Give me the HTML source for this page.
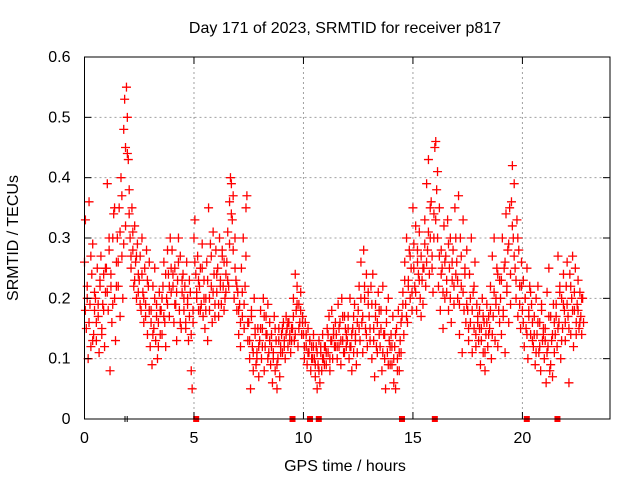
<!DOCTYPE html>
<html><head><meta charset="utf-8"><style>
html,body{margin:0;padding:0;background:#fff;}
svg{display:block;font-family:"Liberation Sans",sans-serif;}
</style></head><body>
<svg id="chart" width="640" height="480" viewBox="0 0 640 480">
<text x="345" y="33" font-size="16" text-anchor="middle">Day 171 of 2023, SRMTID for receiver p817</text>
<text x="345" y="471" font-size="16" text-anchor="middle">GPS time / hours</text>
<text transform="translate(18,238) rotate(-90)" font-size="16" text-anchor="middle">SRMTID / TECUs</text>
<g id="grid"></g>
<g id="points"></g>
<g id="axes"></g>
</svg>
<script>
const xTicks = [0,5,10,15,20];
const yTicks = [0,0.1,0.2,0.3,0.4,0.5,0.6];
const yTickLabels = ["0","0.1","0.2","0.3","0.4","0.5","0.6"];
const segStarts = [0,0.5,1,1.5,2,2.5,3,3.5,4,4.5,5,5.5,6,6.5,7,7.5,8,8.5,9,9.5,10,10.5,11,11.5,12,12.5,13,13.5,14,14.5,15,15.5,16,16.5,17,17.5,18,18.5,19,19.5,20,20.5,21,21.5,22,22.5];
const segValues = [
[.26,.33,.15,.20,.10,.36,.19,.12,.24,.29,.14,.18],
[.20,.13,.25,.17,.11,.22,.27,.15,.19,.24,.12,.21],
[.25,.39,.18,.28,.08,.22,.16,.30,.34,.20,.13,.26],
[.30,.22,.35,.17,.40,.27,.20,.48,.53,.32,.55,.44],
[.43,.38,.30,.25,.35,.28,.22,.32,.26,.20,.29,.24],
[.23,.27,.18,.30,.21,.16,.25,.19,.28,.14,.22,.26],
[.12,.18,.09,.22,.15,.25,.13,.19,.10,.16,.21,.14],
[.18,.14,.22,.26,.16,.12,.20,.28,.24,.17,.30,.21],
[.28,.22,.16,.25,.19,.13,.23,.30,.18,.27,.15,.21],
[.24,.18,.22,.15,.26,.20,.13,.17,.21,.08,.05,.16],
[.30,.33,.24,.20,.27,.18,.22,.25,.19,.29,.17,.23],
[.15,.20,.26,.13,.35,.18,.29,.22,.16,.31,.24,.19],
[.28,.21,.25,.17,.30,.23,.19,.27,.22,.26,.20,.24],
[.26,.31,.22,.36,.40,.39,.33,.28,.20,.25,.23,.18],
[.21,.14,.19,.12,.25,.17,.30,.15,.22,.35,.37,.13],
[.16,.10,.05,.18,.12,.08,.20,.14,.09,.11,.15,.07],
[.13,.18,.10,.15,.20,.08,.12,.17,.14,.19,.11,.16],
[.09,.14,.06,.11,.17,.08,.13,.05,.10,.15,.07,.12],
[.14,.11,.16,.13,.10,.17,.15,.12,.16,.14,.11,.13],
[.15,.20,.13,.24,.18,.22,.12,.19,.16,.21,.14,.17],
[.14,.10,.16,.12,.09,.15,.11,.13,.08,.12,.10,.14],
[.10,.07,.12,.05,.09,.13,.06,.11,.08,.14,.10,.12],
[.12,.09,.15,.11,.17,.08,.13,.18,.10,.14,.12,.16],
[.14,.10,.19,.12,.16,.09,.20,.13,.11,.17,.15,.12],
[.13,.17,.10,.20,.12,.08,.15,.11,.19,.14,.09,.16],
[.18,.22,.13,.26,.16,.11,.28,.20,.15,.24,.12,.19],
[.17,.13,.22,.10,.24,.15,.07,.19,.12,.16,.21,.14],
[.12,.18,.08,.22,.14,.10,.05,.16,.11,.20,.13,.09],
[.14,.09,.17,.06,.12,.05,.15,.10,.18,.08,.13,.11],
[.17,.21,.14,.26,.19,.30,.16,.23,.28,.20,.25,.18],
[.35,.29,.22,.32,.18,.26,.24,.31,.20,.27,.23,.19],
[.25,.33,.22,.39,.28,.43,.24,.30,.36,.27,.21,.34],
[.45,.46,.38,.30,.22,.35,.18,.28,.25,.15,.32,.20],
[.27,.21,.33,.18,.25,.30,.16,.23,.28,.19,.35,.24],
[.26,.20,.37,.14,.30,.22,.11,.33,.18,.25,.16,.28],
[.18,.13,.24,.16,.30,.11,.21,.15,.26,.12,.19,.17],
[.13,.18,.09,.15,.20,.11,.16,.08,.14,.19,.12,.17],
[.15,.22,.10,.27,.17,.30,.13,.20,.25,.12,.18,.23],
[.20,.14,.30,.18,.25,.11,.34,.22,.28,.16,.35,.19],
[.36,.42,.30,.39,.25,.20,.33,.17,.28,.22,.15,.26],
[.18,.23,.12,.20,.15,.25,.10,.17,.22,.14,.19,.13],
[.12,.17,.09,.20,.14,.22,.11,.16,.08,.18,.13,.15],
[.10,.15,.06,.21,.12,.25,.08,.17,.13,.07,.19,.11],
[.14,.19,.12,.27,.16,.22,.10,.20,.15,.24,.18,.13],
[.22,.26,.17,.06,.24,.14,.20,.27,.12,.18,.25,.16],
[.19,.23,.15,.21,.17,.14,.20,.16]
];
const segValues2 = [
[.18,.22,.16,.27,.13,.21],
[.16,.19,.23,.14,.18,.25],
[.21,.30,.24,.19,.35,.22],
[.26,.31,.37,.29,.45,.50],
[.34,.27,.31,.23,.27,.21],
[.19,.24,.20,.17,.23,.18],
[.16,.14,.20,.17,.12,.18],
[.20,.17,.24,.19,.22,.25],
[.24,.19,.21,.26,.16,.23],
[.20,.16,.19,.23,.14,.18],
[.26,.21,.23,.18,.25,.20],
[.18,.23,.20,.27,.21,.17],
[.24,.19,.22,.28,.18,.21],
[.23,.29,.34,.37,.30,.22],
[.18,.16,.21,.19,.27,.16],
[.13,.17,.11,.15,.10,.12],
[.15,.12,.17,.14,.10,.13],
[.12,.10,.15,.09,.13,.11],
[.15,.12,.14,.16,.13,.15],
[.17,.14,.19,.15,.18,.16],
[.12,.14,.11,.13,.10,.12],
[.09,.11,.08,.12,.10,.09],
[.11,.14,.10,.13,.15,.12],
[.12,.15,.13,.17,.11,.14],
[.15,.12,.14,.17,.13,.11],
[.15,.20,.17,.22,.14,.21],
[.15,.19,.13,.17,.11,.18],
[.15,.11,.14,.18,.09,.12],
[.12,.10,.14,.08,.11,.16],
[.19,.23,.17,.22,.27,.21],
[.25,.21,.28,.23,.17,.25],
[.29,.26,.31,.35,.25,.30],
[.33,.41,.27,.24,.21,.26],
[.23,.29,.20,.26,.22,.30],
[.23,.19,.27,.21,.24,.19],
[.15,.20,.18,.22,.14,.16],
[.15,.13,.17,.11,.16,.14],
[.18,.14,.21,.19,.24,.16],
[.23,.17,.26,.21,.29,.24],
[.32,.27,.23,.30,.19,.22],
[.16,.20,.14,.18,.21,.16],
[.14,.11,.16,.12,.19,.14],
[.13,.11,.17,.09,.14,.16],
[.17,.15,.21,.13,.19,.16],
[.19,.15,.22,.18,.21,.14],
[.18,.16,.20]
];
const gapHours = [5.1,9.5,10.3,10.7,14.5,16.0,20.2,21.6];
const slipHours = [1.85,1.95];

const L=84.5,R=610,T=57,B=419;
const xMin=0,xMax=24,yMin=0,yMax=0.6;
const sx=h=>L+(h-xMin)/(xMax-xMin)*(R-L);
const sy=v=>B-(v-yMin)/(yMax-yMin)*(B-T);
const NS="http://www.w3.org/2000/svg";
function mk(tag,attrs,parent){const e=document.createElementNS(NS,tag);for(const k in attrs)e.setAttribute(k,attrs[k]);parent.appendChild(e);return e;}
const grid=document.getElementById('grid'),pts=document.getElementById('points'),axes=document.getElementById('axes');

yTicks.forEach((v,i)=>{
  const y=sy(v);
  if(i>0&&i<yTicks.length-1){
    const g=mk('line',{x1:L,x2:R,y1:y,y2:y,stroke:'#a0a0a0','stroke-dasharray':'2,3'},grid);
    
    
  }
  const t1=mk('line',{x1:L,x2:L+7,y1:y,y2:y,stroke:'#000'},axes);
  
  
  mk('line',{x1:R,x2:R-7,y1:y,y2:y,stroke:'#000'},axes);
  const tx=mk('text',{x:L-14,y:y+5,'font-size':16,'text-anchor':'end'},axes);
  tx.textContent=yTickLabels[i];
  
  
});
xTicks.forEach(h=>{
  const x=sx(h);
  if(h>0){
    const g=mk('line',{x1:x,x2:x,y1:T,y2:B,stroke:'#a0a0a0','stroke-dasharray':'2,3'},grid);
    
    
  }
  const t1=mk('line',{x1:x,x2:x,y1:B,y2:B-7,stroke:'#000'},axes);
  
  
  mk('line',{x1:x,x2:x,y1:T,y2:T+7,stroke:'#000'},axes);
  const tx=mk('text',{x:x,y:B+24,'font-size':16,'text-anchor':'middle'},axes);
  tx.textContent=String(h);
  
  
});
function plus(h,v){
  const x=sx(h),y=sy(v);
  const p=mk('path',{d:`M${x-4.5},${y}H${x+4.5}M${x},${y-4.5}V${y+4.5}`,stroke:'#ff0000','stroke-width':1.3,fill:'none'},pts);
  
  
}
segStarts.forEach((s,si)=>{
  segValues[si].forEach((v,i)=>plus(s+i*0.5/12,v));
  if(segValues2[si]) segValues2[si].forEach((v,i)=>plus(s+0.04+i*0.5/6,v));
});
gapHours.forEach(h=>{
  const r=mk('rect',{x:sx(h)-3,y:B-3,width:6,height:6,fill:'#ff0000'},pts);
  
  
});
slipHours.forEach(h=>{
  const l=mk('line',{x1:sx(h),x2:sx(h),y1:B-3,y2:B+3,stroke:'#000'},pts);
  
  
});
const fr=mk('rect',{x:L,y:T,width:R-L,height:B-T,fill:'none',stroke:'#000','stroke-width':1},axes);


</script>
</body></html>
